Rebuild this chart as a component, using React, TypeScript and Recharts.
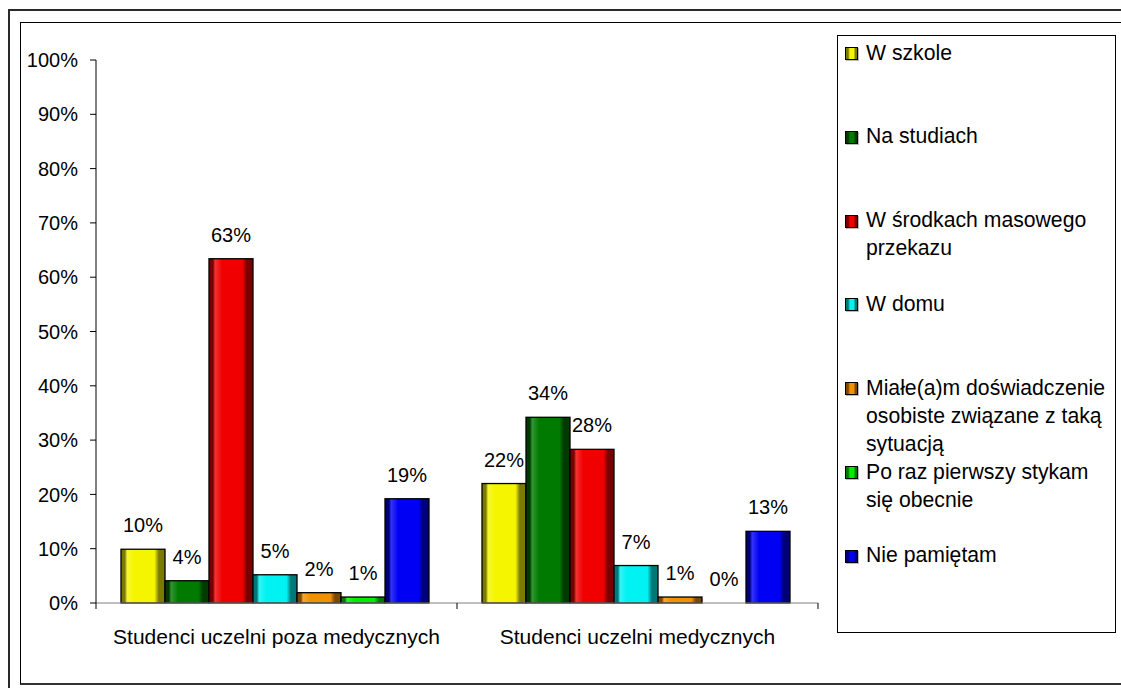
import { BarChart, Bar, XAxis, YAxis, Legend } from 'recharts';

// categories on the x axis
const groups = ['Studenci uczelni poza medycznych', 'Studenci uczelni medycznych'];

// series (legend order)
const seriesNames = [
  'W szkole',
  'Na studiach',
  'W środkach masowego przekazu',
  'W domu',
  'Miałe(a)m doświadczenie osobiste związane z taką sytuacją',
  'Po raz pierwszy stykam się obecnie',
  'Nie pamiętam',
];

// values in %, one entry per group
const wSzkole = [9.9, 22];
const naStudiach = [4.1, 34.2];
const wSrodkach = [63.4, 28.3];
const wDomu = [5.2, 6.9];
const doswiadczenie = [1.9, 1.1];
const poRaz = [1.1, 0];
const niePamietam = [19.2, 13.2];

const yTicks = [0, 10, 20, 30, 40, 50, 60, 70, 80, 90, 100];

// bright / dark tone for each series
const brightColors = ['#f5f500', '#007a00', '#f00000', '#00f2f2', '#f29100', '#00ee00', '#0000f5'];
const darkColors = ['#7a7a00', '#003a00', '#780000', '#007878', '#7a4800', '#007800', '#000078'];

const allSeries = [wSzkole, naStudiach, wSrodkach, wDomu, doswiadczenie, poRaz, niePamietam];

const chartData = groups.map((g, gi) => {
  const row: Record<string, string | number> = { group: g };
  allSeries.forEach((vals, si) => {
    row['s' + si] = vals[gi];
  });
  return row;
});

const FONT = 'Arial, "Liberation Sans", sans-serif';

const PLOT_LEFT = 96;
const PLOT_RIGHT = 818;
const BAND = (PLOT_RIGHT - PLOT_LEFT) / groups.length;

function GroupTick(props: any) {
  const { x, y, payload, index } = props;
  const axisY = y - 8;
  const left = x - BAND / 2;
  return (
    <g>
      <line x1={left} x2={left} y1={axisY} y2={axisY + 6} stroke="#000" />
      {index === groups.length - 1 && (
        <line x1={x + BAND / 2} x2={x + BAND / 2} y1={axisY} y2={axisY + 6} stroke="#000" />
      )}
      <text x={x} y={axisY + 41} textAnchor="middle" fontSize={21} fontFamily={FONT} fill="#000">
        {payload.value}
      </text>
    </g>
  );
}

// bar body plus its value label (so that 0% still gets a label)
function makeBarShape(si: number) {
  return (props: any) => {
    const { x, y, width, height, payload } = props;
    const v = Number(payload['s' + si]);
    return (
      <g>
        {height > 0 && (
          <rect
            x={x}
            y={y}
            width={width}
            height={height}
            fill={`url(#bar-grad-${si})`}
            stroke="#000"
            strokeWidth={1.3}
          />
        )}
        <text
          x={x + width / 2}
          y={y - 17}
          textAnchor="middle"
          fontSize={20}
          fontFamily={FONT}
          fill="#000"
        >
          {Math.round(v) + '%'}
        </text>
      </g>
    );
  };
}

function swatchGradient(i: number) {
  const d = darkColors[i];
  const b = brightColors[i];
  return `linear-gradient(to right, ${d} 0%, ${d} 20%, ${b} 35%, ${b} 70%, ${d} 85%)`;
}

function LegendBox() {
  return (
    <div
      style={{
        position: 'relative',
        width: 277,
        height: 596,
        border: '1px solid #000',
        background: '#fff',
        fontFamily: FONT,
        fontSize: 21.2,
        lineHeight: '28px',
        color: '#000',
      }}
    >
      {seriesNames.map((name, i) => {
        const baseline = 60 + i * 83.8;
        return (
          <div key={name}>
            <div
              style={{
                position: 'absolute',
                left: 7,
                top: baseline - 13 - 36,
                width: 11,
                height: 11,
                border: '1px solid #000',
                background: swatchGradient(i),
                boxShadow: '1px 1px 0 #bbb',
              }}
            />
            <div
              style={{
                position: 'absolute',
                left: 28,
                top: baseline - 21.5 - 36,
                width: 245,
              }}
            >
              {name}
            </div>
          </div>
        );
      })}
    </div>
  );
}

export default function App() {
  return (
    <div
      style={{
        position: 'fixed',
        left: 0,
        top: 0,
        width: 1121,
        height: 688,
        overflow: 'hidden',
        background: '#fff',
      }}
    >
      {/* outer and inner frames */}
      <div
        style={{
          position: 'absolute',
          left: 8,
          top: 9,
          width: 1200,
          height: 800,
          border: '2px solid #2a2a2a',
        }}
      />
      <div
        style={{
          position: 'absolute',
          left: 20,
          top: 22,
          width: 1200,
          height: 660,
          border: '1px solid #000',
          borderBottom: '2px solid #333',
          background: '#fff',
        }}
      />
      <div style={{ position: 'absolute', left: 0, top: 0 }}>
        <BarChart
          width={1121}
          height={688}
          data={chartData}
          margin={{ top: 60, right: 303, bottom: 25, left: 16 }}
          barCategoryGap={25}
          barGap={0}
        >
          <defs>
            {brightColors.map((b, i) => (
              <linearGradient key={i} id={'bar-grad-' + i} x1="0" y1="0" x2="1" y2="0">
                <stop offset="0%" stopColor={darkColors[i]} />
                <stop offset="9%" stopColor={darkColors[i]} />
                <stop offset="14%" stopColor={b} stopOpacity={0.8} />
                <stop offset="30%" stopColor={b} />
                <stop offset="76%" stopColor={b} />
                <stop offset="86%" stopColor={darkColors[i]} />
                <stop offset="100%" stopColor={darkColors[i]} />
              </linearGradient>
            ))}
          </defs>
          <XAxis
            dataKey="group"
            height={60}
            axisLine={{ stroke: '#808080' }}
            tickLine={false}
            tickSize={6}
            tickMargin={2}
            tick={<GroupTick />}
            interval={0}
          />
          <YAxis
            width={80}
            domain={[0, 100]}
            ticks={yTicks}
            interval={0}
            tickFormatter={(v) => v + '%'}
            axisLine={{ stroke: '#000' }}
            tickLine={{ stroke: '#000' }}
            tickSize={6}
            tickMargin={12}
            tick={{ fontSize: 20, fill: '#000', fontFamily: FONT }}
          />
          <Legend
            layout="horizontal"
            verticalAlign="middle"
            align="center"
            content={() => <LegendBox />}
            wrapperStyle={{ left: 837, top: 35, width: 279, height: 598 }}
          />
          {seriesNames.map((name, i) => (
            <Bar
              key={name}
              dataKey={'s' + i}
              name={name}
              fill={`url(#bar-grad-${i})`}
              stroke="#000"
              strokeWidth={1.3}
              shape={makeBarShape(i)}
              isAnimationActive={false}
            />
          ))}
        </BarChart>
      </div>
    </div>
  );
}
